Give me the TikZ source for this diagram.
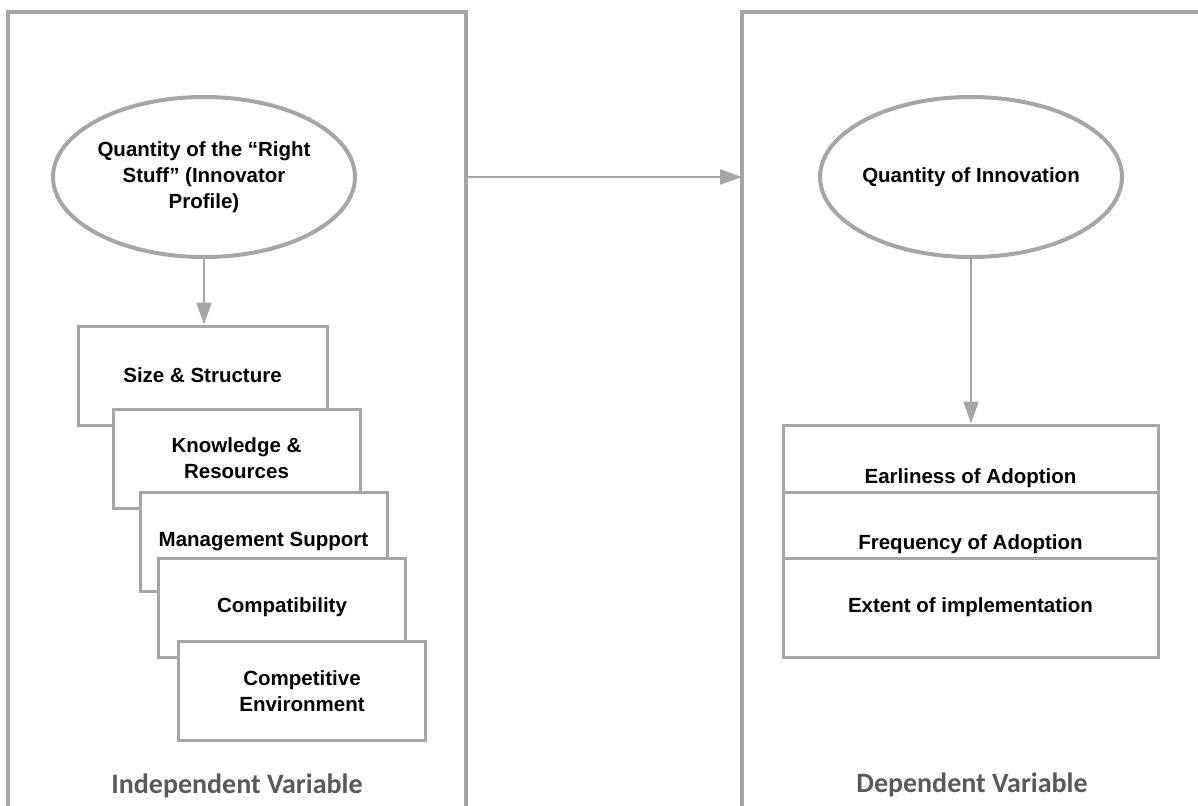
\documentclass[tikz,border=0pt]{standalone}
\usepackage{fontspec}
\setmainfont{Liberation Sans}
\newfontfamily\labelfont{Carlito}
\usetikzlibrary{shapes.geometric,arrows.meta,calc}
\definecolor{linegray}{HTML}{A6A6A6}
\definecolor{labelgray}{HTML}{595959}
\begin{document}
\begin{tikzpicture}[x=1pt,y=-1pt,
  boxfont/.style={font=\fontsize{20.5}{26}\selectfont\bfseries},
  panel/.style={draw=linegray,line width=4pt,fill=none,inner sep=0pt,outer sep=0pt},
  ell/.style={ellipse,draw=linegray,line width=4pt,fill=white,minimum width=302pt,minimum height=160pt,inner ysep=0pt,inner xsep=-12pt,align=center,boxfont},
  stackbox/.style={rectangle,draw=linegray,line width=3pt,fill=white,minimum width=247pt,minimum height=99pt,inner sep=0pt,align=center,boxfont},
  rowbox/.style={rectangle,draw=linegray,line width=3pt,fill=white,minimum width=375pt,inner sep=0pt,align=center,boxfont},
  arr/.style={draw=linegray,line width=2pt,-{Triangle[length=22pt,width=15pt]}},
  varlabel/.style={text=labelgray,font=\labelfont\fontsize{28}{32}\selectfont\bfseries}]
\useasboundingbox (0,0) rectangle (1198,805);
\clip (0,0) rectangle (1198,805);
% panels
\node[panel,minimum width=458pt,minimum height=818pt] (lp) at (237,421) {};
\node[panel,minimum width=478pt,minimum height=818pt] (rp) at (981,421) {};
% ellipses
\node[ell] (q1) at (204,177) {Quantity of the “Right\\Stuff” (Innovator\\Profile)};
\node[ell] (q2) at (971,177) {Quantity of Innovation};
% stacked boxes
\node[stackbox,minimum width=249pt] (size) at (202.5,375.5) {Size \& Structure};
\node[stackbox] (know) at (236.5,458.5) {Knowledge \&\\Resources};
\node[stackbox] (mgmt) at (263.5,541.5) {Management Support};
\node[stackbox] (comp) at (282,607.5) {Compatibility};
\node[stackbox] (env) at (302,691) {Competitive\\Environment};
% right boxes
\node[rowbox,text height=58pt,text depth=9pt] (early) at (970.5,458.5) {Earliness of Adoption};
\node[rowbox,text height=57pt,text depth=9pt] (freq) at (970.5,525) {Frequency of Adoption};
\node[rowbox,minimum height=99pt] (ext) at (970.5,607.5) {Extent of implementation};
% arrows
\draw[arr] (q1.south) -- (q1.south |- size.north);
\draw[arr] (q2.south) -- (q2.south |- early.north);
\draw[arr] (q1 -| lp.east) -- (q2 -| rp.west);
% labels
\node[varlabel] (indep) at (237,786) {Independent Variable};
\node[varlabel] (dep) at (972,785) {Dependent Variable};
\end{tikzpicture}
\end{document}
